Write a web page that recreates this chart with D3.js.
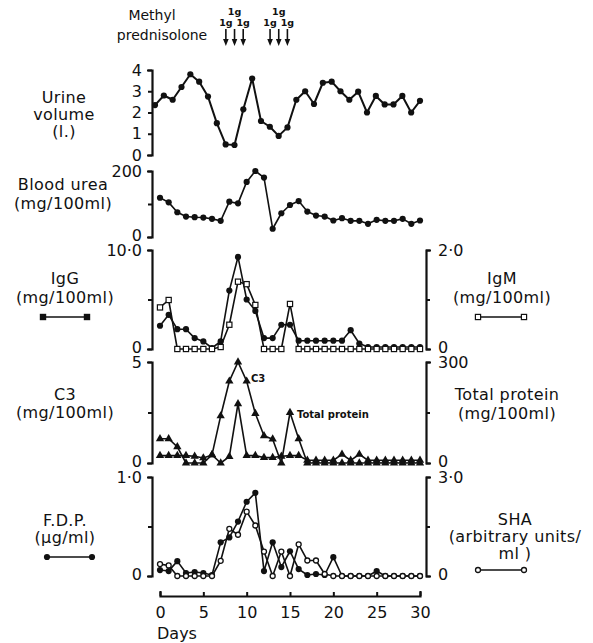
<!DOCTYPE html>
<html>
<head>
<meta charset="utf-8">
<script src="https://cdnjs.cloudflare.com/ajax/libs/d3/7.8.5/d3.min.js"></script>
<style>
body{margin:0;background:#fff;}
svg text{font-family:"DejaVu Sans",sans-serif;fill:#111;}
</style>
</head>
<body>
<div id="chart"></div>
<script>
// ---- data ----
var days=[0,1,2,3,4,5,6,7,8,9,10,11,12,13,14,15,16,17,18,19,20,21,22,23,24,25,26,27,28,29,30];
var xTicks=[0,5,10,15,20,25,30];

var urineVolume=[2.35,2.8,2.6,3.2,3.8,3.45,2.75,1.5,0.5,0.47,2.15,3.6,1.6,1.33,0.9,1.3,2.6,3.0,2.4,3.4,3.45,3.0,2.6,2.98,2.0,2.78,2.38,2.38,2.78,2.0,2.55];
var bloodUrea=[119,105,75,62,60,59,55,49,107,102,167,200,180,25,72,97,109,77,65,62,50,57,49,49,40,52,49,49,55,40,50];
var igG=[2.35,3.45,2.0,2.0,1.1,0.77,0.1,0.77,5.9,9.3,5.0,3.85,1.1,1.1,2.45,2.45,0.84,0.84,0.84,0.84,0.84,0.84,1.9,0.55,0.2,0.2,0.2,0.2,0.2,0.2,0.2];
var igM=[0.84,0.99,0,0,0,0,0,0.04,0.49,1.36,1.31,0.89,0,0,0,0.91,0,0,0,0,0,0,0,0,0,0,0,0,0,0,0];
var c3=[1.2,1.2,0.8,0,0,0,0.4,2.33,4.05,5.0,4.05,2.45,1.35,1.18,0,2.5,1.2,0,0,0,0,0,0,0,0,0,0,0,0,0,0];
var totalProtein=[22,22,22,22,20,15,24,0,19,176,22,22,16,16,20,22,22,8,8,8,8,26,8,26,8,8,8,8,8,8,8];
var fdp=[0.06,0.05,0.15,0.03,0.04,0.03,0.01,0.34,0.39,0.55,0.75,0.84,0.05,0.34,0.09,0.25,0.07,0.01,0.02,0.01,0.19,0,0,0,0,0.05,0,0,0,0,0];
var sha=[0.36,0.32,0,0,0,0,0,0.46,1.43,1.25,1.95,1.53,0.74,0,0.74,0,0.96,0.47,0.47,0.06,0,0,0,0,0,0,0,0,0,0,0];

var doseDays=[7.6,8.6,9.6,12.7,13.7,14.7];
var doseLabels=["1g","1g","1g","1g","1g","1g"];

var urineTicks=[0,1,2,3,4],urineTickLabels=["0","1","2","3","4"];
var ureaTicks=[0,100,200],ureaTickLabels=["0","","200"];
var igGTicks=[0,5,10],igGTickLabels=["0","","10·0"];
var igMTicks=[0,1,2],igMTickLabels=["0","","2·0"];
var c3Ticks=[0,2.5,5],c3TickLabels=["0","","5"];
var tpTicks=[0,150,300],tpTickLabels=["0","","300"];
var fdpTicks=[0,0.5,1],fdpTickLabels=["0","","1·0"];
var shaTicks=[0,1.5,3],shaTickLabels=["0","","3·0"];

// ---- layout ----
var width=593,height=643;
var axisL=152,axisR=426;
var ink="#111";

var svg=d3.select("#chart").append("svg").attr("width",width).attr("height",height);

var x=d3.scaleLinear().domain([0,30]).range([160,420]);
var xUrine=d3.scaleLinear().domain([0,30]).range([155,420]);

var yUrine=d3.scaleLinear().domain([0,4]).range([155,70]);
var yUrea=d3.scaleLinear().domain([0,200]).range([237,171]);
var yIgG=d3.scaleLinear().domain([0,10]).range([349,250]);
var yIgM=d3.scaleLinear().domain([0,2]).range([349,250]);
var yC3=d3.scaleLinear().domain([0,5]).range([463,362]);
var yTP=d3.scaleLinear().domain([0,300]).range([463,362]);
var yFDP=d3.scaleLinear().domain([0,1]).range([576,477]);
var ySHA=d3.scaleLinear().domain([0,3]).range([576,477]);

function yAxis(scale,ticks,labels,side){
	var ax=(side=="left"?d3.axisLeft(scale):d3.axisRight(scale))
		.tickValues(ticks).tickSizeInner(4).tickSizeOuter(5).tickPadding(side=="left"?6:8)
		.tickFormat(function(d,i){return labels[i];});
	var g=svg.append("g").attr("transform","translate("+(side=="left"?axisL:axisR)+",0)").call(ax);
	g.attr("font-size",null).attr("font-family",null);
	g.select(".domain").attr("stroke",ink).attr("stroke-width",2.2).attr("fill","none");
	g.selectAll(".tick line").attr("stroke",ink).attr("stroke-width",2);
	g.selectAll(".tick text").style("font-size","16px").attr("fill",ink)
		.attr("dy",function(d,i){return i==0&&ticks.length==3?"0.2em":"0.32em";});
	return g;
}

function drawSeries(data,xs,ys,marker,lw){
	var line=d3.line().x(function(d,i){return xs(days[i]);}).y(function(d){return ys(d);});
	var g=svg.append("g");
	g.append("path").datum(data).attr("d",line)
		.attr("fill","none").attr("stroke",ink).attr("stroke-width",lw||1.6).attr("stroke-linejoin","round");
	addMarkers(g,data.map(function(d,i){return [xs(days[i]),ys(d)];}),marker);
}

function addMarkers(g,pts,marker){
	var m=g.selectAll(".m").data(pts).enter();
	if(marker=="dot"){
		m.append("circle").attr("cx",function(p){return p[0];}).attr("cy",function(p){return p[1];})
			.attr("r",3.1).attr("fill",ink);
	}
	if(marker=="ring"){
		m.append("circle").attr("cx",function(p){return p[0];}).attr("cy",function(p){return p[1];})
			.attr("r",2.5).attr("fill","#fff").attr("stroke",ink).attr("stroke-width",1.3);
	}
	if(marker=="square"||marker=="block"){
		m.append("rect").attr("x",function(p){return p[0]-2.6;}).attr("y",function(p){return p[1]-2.6;})
			.attr("width",5.2).attr("height",5.2)
			.attr("fill",marker=="block"?ink:"#fff").attr("stroke",ink).attr("stroke-width",1.2);
	}
	if(marker=="tri"){
		m.append("path").attr("d",d3.symbol().type(d3.symbolTriangle).size(30))
			.attr("transform",function(p){return "translate("+p[0]+","+p[1]+")";}).attr("fill",ink);
	}
}

function label(lines,cx,cy,step,size,ls){
	lines.forEach(function(t,i){
		var px=Array.isArray(cx)?cx[i]:cx;
		svg.append("text").attr("x",px).attr("y",cy+i*step).attr("dy","0.35em")
			.attr("text-anchor","middle").style("font-size",(size||16)+"px")
			.style("letter-spacing",(ls==null?0.4:ls)+"px").text(t);
	});
}

function legend(x0,x1,y,marker){
	var g=svg.append("g");
	g.append("line").attr("x1",x0).attr("x2",x1).attr("y1",y).attr("y2",y).attr("stroke",ink).attr("stroke-width",1.4);
	addMarkers(g,[[x0,y],[x1,y]],marker);
}

//==================methyl prednisolone doses=======================
label(["Methyl","prednisolone"],[152,162],15,20,14,0);
var dose=svg.append("g").attr("class","doses");
dose.selectAll("path.shaft").data(doseDays).enter().append("path").attr("class","shaft")
	.attr("d",function(d){var px=x(d);return "M"+px+",29V41";})
	.attr("stroke",ink).attr("stroke-width",1.6);
dose.selectAll("path.head").data(doseDays).enter().append("path").attr("class","head")
	.attr("d",function(d){var px=x(d);return "M"+(px-2.8)+",39L"+(px+2.8)+",39L"+px+",46Z";})
	.attr("fill",ink);
dose.selectAll("text").data(doseLabels).enter().append("text")
	.attr("x",function(d,i){return x(doseDays[i]);})
	.attr("y",function(d,i){return i%3==1?12:23;}).attr("dy","0.35em")
	.attr("text-anchor","middle").style("font-size","9.5px").style("font-weight","bold").text(function(d){return d;});

//==================urine volume=======================
yAxis(yUrine,urineTicks,urineTickLabels,"left");
drawSeries(urineVolume,xUrine,yUrine,"dot",2);
label(["Urine","volume","(l.)"],64,97,17);

//==================blood urea=======================
yAxis(yUrea,ureaTicks,ureaTickLabels,"left");
drawSeries(bloodUrea,x,yUrea,"dot",1.6);
label(["Blood urea","(mg/100ml)"],63,184,19);

//==================IgG / IgM=======================
yAxis(yIgG,igGTicks,igGTickLabels,"left");
yAxis(yIgM,igMTicks,igMTickLabels,"right");
drawSeries(igG,x,yIgG,"dot");
drawSeries(igM,x,yIgM,"square");
label(["IgG","(mg/100ml)"],65,278,19);
legend(43,87,317,"block");
label(["IgM","(mg/100ml)"],502,278,19);
legend(478,524,317,"square");

//==================C3 / total protein=======================
yAxis(yC3,c3Ticks,c3TickLabels,"left");
yAxis(yTP,tpTicks,tpTickLabels,"right");
drawSeries(totalProtein,x,yTP,"tri");
drawSeries(c3,x,yC3,"tri");
label(["C3","(mg/100ml)"],65,394,18);
label(["Total protein","(mg/100ml)"],507,394,19);
svg.append("text").attr("x",x(10.5)).attr("y",yC3(4.2)).attr("dy","0.35em")
	.style("font-size","10px").style("font-weight","bold").text("C3");
svg.append("text").attr("x",x(15.8)).attr("y",yC3(2.4)).attr("dy","0.35em")
	.style("font-size","10px").style("font-weight","bold").text("Total protein");

//==================FDP / SHA=======================
yAxis(yFDP,fdpTicks,fdpTickLabels,"left");
yAxis(ySHA,shaTicks,shaTickLabels,"right");
drawSeries(fdp,x,yFDP,"dot");
drawSeries(sha,x,ySHA,"ring");
label(["F.D.P.","(µg/ml)"],65,520,17);
legend(47,92,557,"dot");
label(["SHA","(arbitrary units/","ml )"],515,519,17);
legend(478,524,570,"ring");

//==================days axis=======================
var xa=svg.append("g").attr("transform","translate(0,596)")
	.call(d3.axisBottom(x).tickValues(xTicks).tickSizeInner(-4).tickSizeOuter(-5).tickPadding(11));
xa.attr("font-size",null).attr("font-family",null);
xa.select(".domain").attr("stroke",ink).attr("stroke-width",2.2).attr("fill","none");
xa.selectAll(".tick line").attr("stroke",ink).attr("stroke-width",2);
xa.selectAll(".tick text").style("font-size","16px").attr("fill",ink);
svg.append("text").attr("x",157).attr("y",633).attr("dy","0.35em").style("font-size","16px").text("Days");
</script>
</body>
</html>
